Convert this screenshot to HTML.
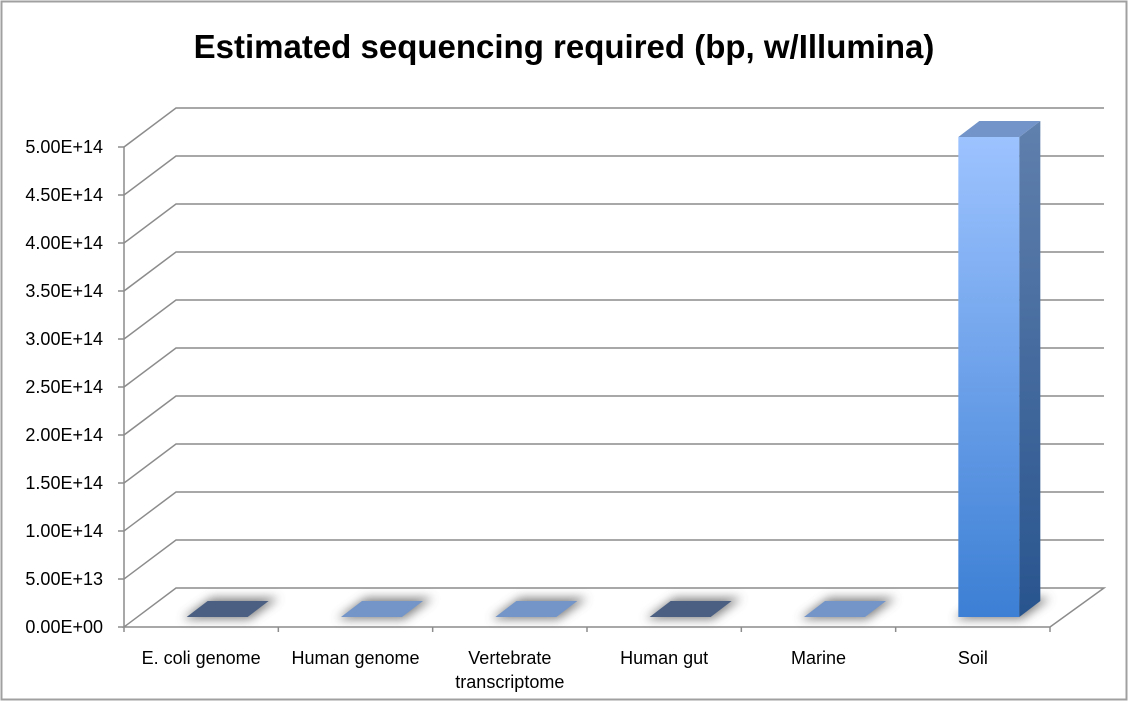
<!DOCTYPE html>
<html><head><meta charset="utf-8"><style>
html,body{margin:0;padding:0;background:#fff;}
svg{display:block;font-family:"Liberation Sans",Arial,sans-serif;}
</style></head><body>
<svg id="chart" width="1128" height="701" viewBox="0 0 1128 701">
<defs>
<linearGradient id="soilFront" x1="0" y1="0" x2="0" y2="1"><stop offset="0" stop-color="#9dc3ff"/><stop offset="1" stop-color="#3c7fd4"/></linearGradient>
<linearGradient id="soilSide" x1="0" y1="0" x2="0" y2="1"><stop offset="0" stop-color="#6080ad"/><stop offset="1" stop-color="#28548e"/></linearGradient>
<filter id="blur" x="-50%" y="-50%" width="200%" height="200%"><feGaussianBlur stdDeviation="5"/></filter>
</defs>
<rect x="1.5" y="1.5" width="1125" height="698" fill="#fff" stroke="#a0a0a0" stroke-width="2"/>
<text x="564" y="58" text-anchor="middle" font-size="33" font-weight="bold" fill="#000">Estimated sequencing required (bp, w/Illumina)</text>
<g id="grid"></g><g id="bars"></g><g id="axes"></g>
</svg>
<script>
const categories = ["E. coli genome","Human genome","Vertebrate transcriptome","Human gut","Marine","Soil"];
const values = [5e9, 3e11, 1e11, 1e12, 1e12, 5.0e14];
const yTicks = [0,5e13,1e14,1.5e14,2e14,2.5e14,3e14,3.5e14,4e14,4.5e14,5e14];
const yTickLabels = ["0.00E+00","5.00E+13","1.00E+14","1.50E+14","2.00E+14","2.50E+14","3.00E+14","3.50E+14","4.00E+14","4.50E+14","5.00E+14"];
const barColors = ["#4a5f82","#7495c8","#7495c8","#4a5f82","#7495c8","soil"];

const NS="http://www.w3.org/2000/svg";
const X0=124, X1=1050, Y0=627, PXV=48/5e13, DX=52, DY=-39;
const slot=(X1-X0)/categories.length;
function yS(v){return Y0 - v*PXV;}
function mk(tag,attrs,parent){const e=document.createElementNS(NS,tag);for(const k in attrs)e.setAttribute(k,attrs[k]);parent.appendChild(e);return e;}
const grid=document.getElementById('grid'), bars=document.getElementById('bars'), axes=document.getElementById('axes');
const gc="#8c8c8c";
const floor=mk('polygon',{points:`${X0},${Y0} ${X0+DX},${Y0+DY} ${X1+DX+2},${Y0+DY} ${X1},${Y0}`,fill:'none',stroke:gc,'stroke-width':1.5},grid);


yTicks.forEach((t,i)=>{
  const y=yS(t);
  if(i>0){
    const g=mk('polyline',{points:`${X0},${y} ${X0+DX},${y+DY} ${X1+DX+2},${y+DY}`,fill:'none',stroke:gc,'stroke-width':1.5},grid);
    
    
  }
  mk('line',{x1:X0-6,y1:y,x2:X0,y2:y,stroke:gc,'stroke-width':1.5},axes);
  const tx=mk('text',{x:X0-21,y:y+6,'text-anchor':'end','font-size':18,fill:'#000'},axes);
  tx.textContent=yTickLabels[i];
  
  
});
const ya=mk('line',{x1:X0,y1:yS(5e14),x2:X0,y2:Y0,stroke:gc,'stroke-width':1.5},axes);


for(let i=0;i<=categories.length;i++){
  const x=X0+i*slot;
  mk('line',{x1:x,y1:Y0,x2:x,y2:Y0+5,stroke:gc,'stroke-width':1.5},axes);
}
const bdx=16, bdy=-10, ddx=21, ddy=-16, bw=61;
categories.forEach((c,i)=>{
  const cx=X0+(i+0.5)*slot+bdx;
  const x=cx-bw/2, yb=Y0+bdy, yt=yS(values[i])+bdy;
  const g=mk('g',{},bars);
  
  
  mk('polygon',{points:`${x-4},${yb+2} ${x+ddx+4},${yb+ddy-3} ${x+bw+ddx+10},${yb+ddy-3} ${x+bw+2},${yb+2}`,fill:'#555',opacity:0.75,filter:'url(#blur)'},g);
  const col=barColors[i];
  const h=yb-yt;
  if(h<3){
    mk('polygon',{points:`${x},${yb} ${x+ddx},${yb+ddy} ${x+bw+ddx},${yb+ddy} ${x+bw},${yb}`,fill:col},g);
  } else {
    mk('rect',{x:x,y:yt,width:bw,height:h,fill:col==='soil'?'url(#soilFront)':col},g);
    mk('polygon',{points:`${x+bw},${yt} ${x+bw+ddx},${yt+ddy} ${x+bw+ddx},${yb+ddy} ${x+bw},${yb}`,fill:col==='soil'?'url(#soilSide)':col},g);
    mk('polygon',{points:`${x},${yt} ${x+ddx},${yt+ddy} ${x+bw+ddx},${yt+ddy} ${x+bw},${yt}`,fill:col==='soil'?'#7294c8':col},g);
  }
  const lx=X0+(i+0.5)*slot;
  const words=c==="Vertebrate transcriptome"?["Vertebrate","transcriptome"]:[c];
  words.forEach((w,j)=>{
    const t=mk('text',{x:lx,y:664+j*24,'text-anchor':'middle','font-size':18,fill:'#000'},axes);
    t.textContent=w;
    
    
  });
});
</script>
</body></html>
